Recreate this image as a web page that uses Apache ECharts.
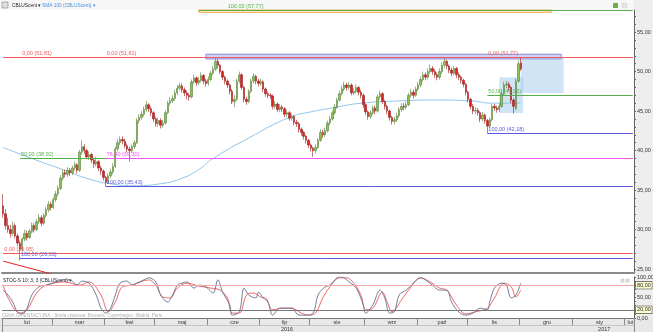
<!DOCTYPE html>
<html><head><meta charset="utf-8">
<script src="https://cdn.jsdelivr.net/npm/echarts@6/dist/echarts.min.js"></script>
<style>html,body{margin:0;padding:0;background:#fff}#c{width:653px;height:332px}</style>
</head><body><div id="c"></div><script>
// ---- categories (trading days grouped by month) ----
const monthNames = ['lut','mar','kwi','maj','cze','lip','sie','wrz','paź','lis','gru','sty','lut'];
const monthDays  = [21,22,21,22,22,21,23,22,21,22,22,22,4];
const yearNames = ['2016','2017'];
const yearMonthCounts = [11,2];

// ---- price OHLC ----
const open = [33.0,32.0,30.5,30.0,29.5,30.5,29.2,28.3,27.5,28.8,
 29.5,29.0,29.8,30.5,30.0,31.0,31.5,30.8,31.8,32.5,
 33.2,32.8,33.8,34.5,35.2,36.5,37.2,37.0,37.5,37.2,
 37.8,38.2,37.5,39.8,40.5,40.0,39.2,39.5,38.8,38.3,
 38.6,37.8,37.4,36.6,36.0,36.8,37.3,38.0,40.2,41.0,
 41.4,41.2,40.6,40.2,40.0,40.5,41.0,43.8,44.2,44.6,
 45.2,45.8,45.3,44.8,44.0,43.4,43.8,43.2,43.5,44.8,
 46.0,46.3,46.6,47.3,47.9,48.2,47.7,47.3,47.0,46.8,
 48.7,49.2,48.6,48.9,49.5,48.8,48.5,49.0,49.8,50.3,
 51.3,50.8,50.0,49.3,48.8,48.3,47.5,46.2,46.5,48.8,
 49.6,48.0,46.5,46.2,47.5,48.8,49.4,48.8,48.5,48.7,
 47.8,47.2,47.0,46.9,45.6,45.9,45.2,45.5,45.3,44.6,
 44.8,44.1,44.3,43.6,43.4,42.7,42.3,41.8,41.3,40.7,
 40.3,40.0,40.4,41.3,42.3,42.0,42.5,43.5,44.0,44.8,
 45.5,46.4,47.2,47.8,48.3,48.0,48.3,47.3,47.5,48.0,
 47.4,47.0,45.8,44.9,44.3,44.8,45.4,45.0,46.8,47.2,
 46.2,45.6,45.0,44.2,43.7,43.9,44.4,45.2,45.6,45.5,
 45.8,47.0,47.4,47.0,47.8,48.3,49.0,49.6,49.3,50.0,
 50.4,50.0,49.6,49.3,50.0,50.8,51.3,50.7,50.2,49.8,
 50.4,49.6,49.3,48.9,48.4,47.4,46.5,45.6,45.0,45.1,
 44.8,44.0,44.5,43.8,43.1,43.9,45.6,45.4,45.2,45.6,
 47.2,48.3,48.4,48.0,46.4,45.3,48.8,51.1];
const close = [32.0,30.5,30.0,29.5,30.5,29.2,28.3,27.5,28.8,29.5,
 29.0,29.8,30.5,30.0,31.0,31.5,30.8,31.8,32.5,33.2,
 32.8,33.8,34.5,35.2,36.5,37.2,37.0,37.5,37.2,37.8,
 38.2,37.5,39.8,40.5,40.0,39.2,39.5,38.8,38.3,38.6,
 37.8,37.4,36.6,36.0,36.8,37.3,38.0,40.2,41.0,41.4,
 41.2,40.6,40.2,40.0,40.5,41.0,43.8,44.2,44.6,45.2,
 45.8,45.3,44.8,44.0,43.4,43.8,43.2,43.5,44.8,46.0,
 46.3,46.6,47.3,47.9,48.2,47.7,47.3,47.0,46.8,48.7,
 49.2,48.6,48.9,49.5,48.8,48.5,49.0,49.8,50.3,51.3,
 50.8,50.0,49.3,48.8,48.3,47.5,46.2,46.5,48.8,49.6,
 48.0,46.5,46.2,47.5,48.8,49.4,48.8,48.5,48.7,47.8,
 47.2,47.0,46.9,45.6,45.9,45.2,45.5,45.3,44.6,44.8,
 44.1,44.3,43.6,43.4,42.7,42.3,41.8,41.3,40.7,40.3,
 40.0,40.4,41.3,42.3,42.0,42.5,43.5,44.0,44.8,45.5,
 46.4,47.2,47.8,48.3,48.0,48.3,47.3,47.5,48.0,47.4,
 47.0,45.8,44.9,44.3,44.8,45.4,45.0,46.8,47.2,46.2,
 45.6,45.0,44.2,43.7,43.9,44.4,45.2,45.6,45.5,45.8,
 47.0,47.4,47.0,47.8,48.3,49.0,49.6,49.3,50.0,50.4,
 50.0,49.6,49.3,50.0,50.8,51.3,50.7,50.2,49.8,50.4,
 49.6,49.3,48.9,48.4,47.4,46.5,45.6,45.0,45.1,44.8,
 44.0,44.5,43.8,43.1,43.9,45.6,45.4,45.2,45.6,47.2,
 48.3,48.4,48.0,46.4,45.6,48.8,51.0,50.36];
const high = [34.5,32.6,31.5,30.6,31.0,30.8,29.5,28.6,29.0,30.0,
 29.9,30.1,30.9,30.8,31.3,32.0,31.8,32.1,32.9,33.6,
 33.5,34.1,34.9,35.6,36.9,37.6,37.6,37.9,37.8,38.1,
 38.6,38.4,40.1,41.3,40.8,40.2,39.9,39.7,39.0,39.2,
 38.8,38.1,37.6,36.8,37.1,37.7,38.4,40.5,41.5,41.8,
 41.8,41.5,40.9,40.5,40.8,41.3,44.1,44.6,45.0,45.6,
 46.3,46.0,45.6,45.0,44.3,44.2,44.1,43.9,45.1,46.3,
 46.8,47.0,47.7,48.3,48.6,48.5,48.0,47.6,47.3,49.0,
 49.6,49.4,49.3,49.9,49.7,49.1,49.4,50.1,50.7,51.81,
 51.6,51.0,50.2,49.5,49.0,48.5,47.8,47.0,49.1,50.0,
 49.8,48.2,46.8,47.8,49.1,49.8,49.6,49.1,49.1,48.9,
 48.0,47.5,47.3,47.1,46.3,46.1,45.9,45.8,45.5,45.2,
 45.0,44.7,44.5,43.9,43.6,42.9,42.5,42.0,41.5,40.9,
 40.5,40.8,41.6,42.7,42.6,42.9,43.8,44.4,45.1,45.9,
 46.7,47.6,48.2,48.7,48.6,48.7,48.5,47.9,48.4,48.2,
 47.7,47.2,46.0,45.1,45.1,45.7,45.7,47.1,47.6,47.4,
 46.4,45.8,45.2,44.4,44.3,44.8,45.5,46.0,46.0,46.2,
 47.3,47.8,47.7,48.1,48.7,49.4,50.0,49.9,50.4,50.9,
 50.7,50.3,49.9,50.4,51.2,51.7,51.5,50.9,50.5,50.7,
 50.6,49.9,49.5,49.1,48.6,47.6,46.7,45.9,45.5,45.4,
 45.0,44.9,44.7,44.0,44.2,45.9,45.9,45.7,46.0,47.6,
 48.7,48.8,48.7,48.2,46.6,49.1,51.4,51.77];
const low = [31.5,30.0,29.6,29.0,29.2,28.9,27.9,26.1,27.2,28.5,
 28.6,28.8,29.5,29.6,29.8,30.7,30.4,30.6,31.5,32.2,
 32.4,32.6,33.5,34.2,35.0,36.2,36.6,36.7,36.8,36.9,
 37.5,37.1,37.3,39.5,39.6,38.9,38.8,38.4,37.8,38.0,
 37.4,36.9,36.2,35.43,35.8,36.5,37.0,37.8,39.9,40.7,
 40.8,40.3,39.8,38.6,39.7,40.2,40.8,43.4,43.9,44.3,
 44.9,44.9,44.4,43.6,43.0,43.0,42.8,42.9,43.3,44.6,
 45.7,46.0,46.3,47.0,47.6,47.3,46.9,46.5,46.3,46.6,
 48.4,48.2,48.3,48.6,48.4,48.1,48.2,48.8,49.5,50.1,
 50.4,49.7,48.9,48.4,47.9,47.1,45.9,45.5,46.3,48.5,
 47.7,46.1,45.8,46.0,47.3,48.5,48.4,48.1,48.2,47.4,
 46.8,46.6,46.5,45.2,45.3,44.9,44.9,44.9,44.2,44.3,
 43.8,43.8,43.2,43.0,42.3,41.9,41.4,40.9,40.3,39.9,
 39.2,39.6,40.2,41.1,41.6,41.7,42.3,43.2,43.8,44.5,
 45.3,46.2,47.0,47.5,47.6,47.7,47.0,47.0,47.2,47.0,
 46.6,45.4,44.5,43.9,44.0,44.5,44.6,44.8,46.5,45.9,
 45.2,44.6,43.8,43.3,43.3,43.6,44.1,44.9,45.1,45.2,
 45.6,46.7,46.6,46.8,47.5,48.0,48.7,48.9,49.0,49.7,
 49.6,49.2,48.9,49.0,49.7,50.5,50.3,49.8,49.4,49.5,
 49.2,48.9,48.5,48.0,47.0,46.1,45.2,44.6,44.6,44.4,
 43.6,43.7,43.4,42.18,42.8,43.7,45.0,44.8,44.9,45.4,
 47.0,47.9,47.6,46.0,44.7,45.1,48.6,50.1];
const lastPrice = 50.36;

// ---- SMA 100 (read at points) ----
const smaIdx = [0,12,24,36,45,54,66,75,82,88,103,120,129,138,150,167,180,196,205,217];
const smaVal = [40.4,39.0,37.7,36.4,35.8,35.55,35.8,36.5,37.6,39.0,41.6,44.2,44.9,45.4,46.0,46.3,46.4,46.3,46.0,46.0];

// ---- Stochastic %K / %D (read at points) ----
const kIdx = [0,2,4,6,8,10,12,15,18,21,25,28,31,33,36,39,41,43,45,47,49,52,54,56,59,61,64,66,69,71,73,75,77,80,82,85,88,90,92,95,96,99,101,103,106,107,109,111,113,116,119,121,124,127,130,132,135,137,140,142,145,148,151,152,155,158,160,162,164,166,169,172,175,177,180,183,186,188,191,194,197,200,203,204,206,209,211,213,215,217];
const kVal = [68,56,39,15,10,24,56,76,80,85,93,93,80,90,85,56,24,12,24,56,85,90,80,85,93,98,88,56,39,56,80,85,88,73,80,76,61,93,63,32,7,15,73,56,49,63,49,39,7,24,24,24,7,7,12,56,76,80,98,100,88,73,32,12,32,68,49,12,15,56,68,85,98,93,80,68,68,39,15,7,12,24,20,39,73,85,80,49,56,85];
const dIdx = [0,2,7,10,14,18,26,32,36,41,43,44,47,50,54,61,64,67,70,73,77,82,87,91,94,96,99,102,105,108,110,113,117,121,125,128,131,134,137,141,144,147,150,152,155,159,161,163,167,170,175,179,183,186,190,194,198,203,206,210,213,215,217];
const dVal = [80,49,12,20,61,80,88,80,88,56,24,15,39,76,80,93,80,51,49,73,85,78,73,68,49,12,12,56,61,51,49,20,24,24,12,7,12,49,76,98,98,85,56,20,24,63,39,15,44,68,98,88,73,68,32,10,15,24,49,85,76,51,68];
const stochLevels = [80,20];

// ---- drawing-tool levels (Fibonacci) ----
const fibValue = [57.77,51.81,51.81,51.77,46.96,42.18,39.05,39.05,35.43,26.95,26.35];
const fibStart = [82,0,43,203,203,203,7,43,43,0,7];
const fibText  = ['100,00 (57,77)','0,00 (51,81)','0,00 (51,81)','0,00 (51,77)','50,00 (46,96)','100,00 (42,18)','50,00 (38,92)','76,40 (39,30)','100,00 (35,43)','0,00 (26,95)','100,00 (26,03)'];
const trendLine = [[0,26.0],[30,23.6]];
// rectangles [x0, y0, x1, y1]
const boxes = [[82,58.1,230,57.5],[85,52.2,234,51.6],[216.5,51.8,234.5,47.3],[207.5,49.3,218,44.75]];

// axis ticks
const priceTicks = [25,30,35,40,45,50,55];
const priceMinorTicks = [25,26,27,28,29,30,31,32,33,34,35,36,37,38,39,40,41,42,43,44,45,46,47,48,49,50,51,52,53,54,55,56,57];
const stochTicks = [0,50,100];
const stochMinorTicks = [0,10,20,30,40,50,60,70,80,90,100];

// ---------- build ----------
const cats = [], monthStart = new Set(), monthLabel = {}, yearStart = new Set(), yearLabel = {};
let idx = 0;
monthNames.forEach((m, k) => {
  monthStart.add(idx);
  if (monthDays[k] >= 3) monthLabel[idx + Math.floor(monthDays[k] / 2)] = m;
  for (let d = 0; d < monthDays[k]; d++) cats.push(m + '-' + k + '-' + d);
  idx += monthDays[k];
});
const lastIdx = cats.length - 1;
let mi = 0, yStartIdx = 0;
yearNames.forEach((y, k) => {
  let len = 0;
  for (let j = 0; j < yearMonthCounts[k]; j++) len += monthDays[mi + j];
  mi += yearMonthCounts[k];
  yearStart.add(yStartIdx);
  yearLabel[Math.floor(yStartIdx + len / 2)] = y;
  yStartIdx += len;
});

const fmt = v => Number(v).toFixed(2).replace('.', ',');
const candleData = open.map((o, i) => [o, close[i], low[i], high[i]]);
const fibColors = ['#55b04a','#f05a5a','#f05a5a','#f05a5a','#55b04a','#5a5ae0','#55b04a','#ee55ee','#5a5ae0','#f05a5a','#5a5ae0'];
const fibPad = [28,18,0,0,0,0,0,0,0,0,0];
const boxStyles = [
  {color:'rgba(255,210,140,0.45)', borderColor:'#f0b050', borderWidth:1},
  {color:'rgba(140,140,225,0.40)', borderColor:'#8c8cd8', borderWidth:1},
  {color:'rgba(150,195,235,0.45)', borderWidth:0},
  {color:'rgba(150,195,235,0.45)', borderWidth:0}
];
const tiny = {fontFamily:'Liberation Sans, Arial, sans-serif', fontSize:5.5};

const fibMarkLines = fibValue.map((v, k) => [
  {coord:[fibStart[k], v], lineStyle:{color:fibColors[k], width:1, type:'solid'},
   label:{show:true, position:'insideStartTop', formatter:fibText[k], color:fibColors[k], distance:1,
          padding:[0,0,0,fibPad[k]], ...tiny}},
  {coord:[lastIdx, v]}
]);
fibMarkLines.push([
  {yAxis:lastPrice, lineStyle:{opacity:0, width:0},
   label:{show:true, position:'end', formatter:fmt(lastPrice), distance:2, color:'#222',
          backgroundColor:'#ffffd0', borderColor:'#444', borderWidth:0.6, padding:[1,1,0,1], ...tiny}},
  {xAxis:lastIdx, yAxis:lastPrice}
]);

const chart = echarts.init(document.getElementById('c'), null, {renderer:'canvas'});
chart.setOption({
  animation:false,
  backgroundColor:'#ffffff',
  textStyle:{fontFamily:'Liberation Sans, Arial, sans-serif'},
  graphic:[
    {type:'rect', z:-5, shape:{x:634,y:0,width:19,height:332}, style:{fill:'#eeeeee'}},
    {type:'rect', z:-5, shape:{x:0,y:318,width:653,height:14}, style:{fill:'#e8e8e8'}},
    {type:'rect', z:-5, shape:{x:0,y:0,width:634,height:10}, style:{fill:'#f7f7f7'}},
    {type:'rect', shape:{x:2,y:2,width:6,height:6}, style:{fill:'#ddd', stroke:'#888', lineWidth:0.6}},
    {type:'text', x:12, y:5.5, style:{text:'CBLUScent ▾', fill:'#222', font:'4.8px Liberation Sans', textVerticalAlign:'middle'}},
    {type:'text', x:42, y:5.5, style:{text:'SMA 100 (CBLUScent) ▾', fill:'#4a8fd8', font:'4.8px Liberation Sans', textVerticalAlign:'middle'}},
    {type:'rect', shape:{x:613,y:3,width:5,height:5}, style:{fill:'#6ab04c'}},
    {type:'rect', shape:{x:622,y:3,width:5,height:5}, style:{fill:'#e6e6e6', stroke:'#ccc', lineWidth:0.5}},
    {type:'text', x:3, y:281, style:{text:'STOC-S 10; 3; 3 (CBLUScent) ▾', fill:'#222', font:'4.8px Liberation Sans', textVerticalAlign:'middle'}},
    {type:'rect', shape:{x:621,y:279,width:3,height:3}, style:{fill:'#ddd', stroke:'#bbb', lineWidth:0.5}},
    {type:'rect', shape:{x:626,y:279,width:3,height:3}, style:{fill:'#ddd', stroke:'#bbb', lineWidth:0.5}},
    {type:'text', x:2, y:316, style:{text:'CENA ORIENTACYJNA · Strefa czasowa: Brussels, Copenhagen, Madrid, Paris', fill:'#b0b0b0', font:'4.5px Liberation Sans', textVerticalAlign:'middle'}}
  ],
  grid:[
    {left:2, right:19, top:10, height:263, containLabel:false, outerBoundsMode:'none'},
    {left:2, right:19, top:277, height:41, containLabel:false, outerBoundsMode:'none'}
  ],
  xAxis:[
    {type:'category', gridIndex:0, data:cats, boundaryGap:true,
     axisLine:{show:true, lineStyle:{color:'#8a8a8a', width:2}}, axisTick:{show:false}, axisLabel:{show:false}, splitLine:{show:false}},
    {type:'category', gridIndex:1, data:cats, boundaryGap:true, position:'bottom',
     axisLine:{show:true, lineStyle:{color:'#777', width:1}},
     axisTick:{show:true, length:7, interval:(i)=>monthStart.has(i), lineStyle:{color:'#888', width:1}},
     axisLabel:{show:true, interval:(i)=>monthLabel[i]!==undefined, formatter:(v,i)=>monthLabel[i]||'', margin:1.5, color:'#333', ...tiny},
     splitLine:{show:false}},
    {type:'category', gridIndex:1, data:cats, boundaryGap:true, position:'bottom', offset:7,
     axisLine:{show:true, lineStyle:{color:'#c4c4c4', width:1}},
     axisTick:{show:true, length:7, interval:(i)=>yearStart.has(i) && i>0, lineStyle:{color:'#888', width:1}},
     axisLabel:{show:true, interval:(i)=>yearLabel[i]!==undefined, formatter:(v,i)=>yearLabel[i]||'', margin:1, color:'#333', ...tiny},
     splitLine:{show:false}}
  ],
  yAxis:[
    {type:'value', gridIndex:0, position:'right', min:24.5, max:57.8, scale:true,
     axisLine:{show:true, lineStyle:{color:'#666', width:1}},
     axisTick:{show:true, customValues:priceMinorTicks, length:2, lineStyle:{color:'#666'}},
     axisLabel:{show:true, customValues:priceTicks, formatter:fmt, margin:3, color:'#333', ...tiny},
     splitLine:{show:false}},
    {type:'value', gridIndex:1, position:'right', min:0, max:100,
     axisLine:{show:true, lineStyle:{color:'#666', width:1}},
     axisTick:{show:true, customValues:stochMinorTicks, length:2, lineStyle:{color:'#666'}},
     axisLabel:{show:true, customValues:stochTicks, formatter:fmt, margin:3, color:'#333', ...tiny},
     splitLine:{show:false}}
  ],
  series:[
    {type:'line', xAxisIndex:0, yAxisIndex:0, data:smaIdx.map((x,k)=>[x, smaVal[k]]), smooth:0.5,
     symbol:'none', lineStyle:{color:'#8fc6ec', width:1}, z:1},
    {type:'candlestick', xAxisIndex:0, yAxisIndex:0, data:candleData, barWidth:1.9,
     itemStyle:{color:'#8cc152', color0:'#e32020', borderColor:'#567f35', borderColor0:'#9a1a1a', borderWidth:0.6},
     markLine:{symbol:['none','none'], silent:true, animation:false, data:fibMarkLines},
     markArea:{silent:true, data:boxes.map((b,k)=>[{coord:[b[0],b[1]], itemStyle:boxStyles[k]},{coord:[b[2],b[3]]}])},
     z:3},
    {type:'line', xAxisIndex:0, yAxisIndex:0, data:trendLine, symbol:'none', clip:true,
     lineStyle:{color:'#e82020', width:1}, z:2},
    {type:'line', xAxisIndex:1, yAxisIndex:1, data:dIdx.map((x,k)=>[x, dVal[k]]), smooth:0.35,
     symbol:'none', lineStyle:{color:'#f05555', width:0.9},
     markLine:{symbol:['none','none'], silent:true, animation:false, data:stochLevels.map((v,k)=>({
       yAxis:v, lineStyle:{color:k===0?'#f4a5a5':'#777', width:1, type:'solid'},
       label:{show:true, position:'end', formatter:fmt(v), distance:2, color:'#222',
              backgroundColor:'#ffffd0', borderColor:'#444', borderWidth:0.6, padding:[1,1,0,1], ...tiny}}))}},
    {type:'line', xAxisIndex:1, yAxisIndex:1, data:kIdx.map((x,k)=>[x, kVal[k]]), smooth:0.35,
     symbol:'none', lineStyle:{color:'#5f7390', width:0.9}}
  ]
});
</script></body></html>
